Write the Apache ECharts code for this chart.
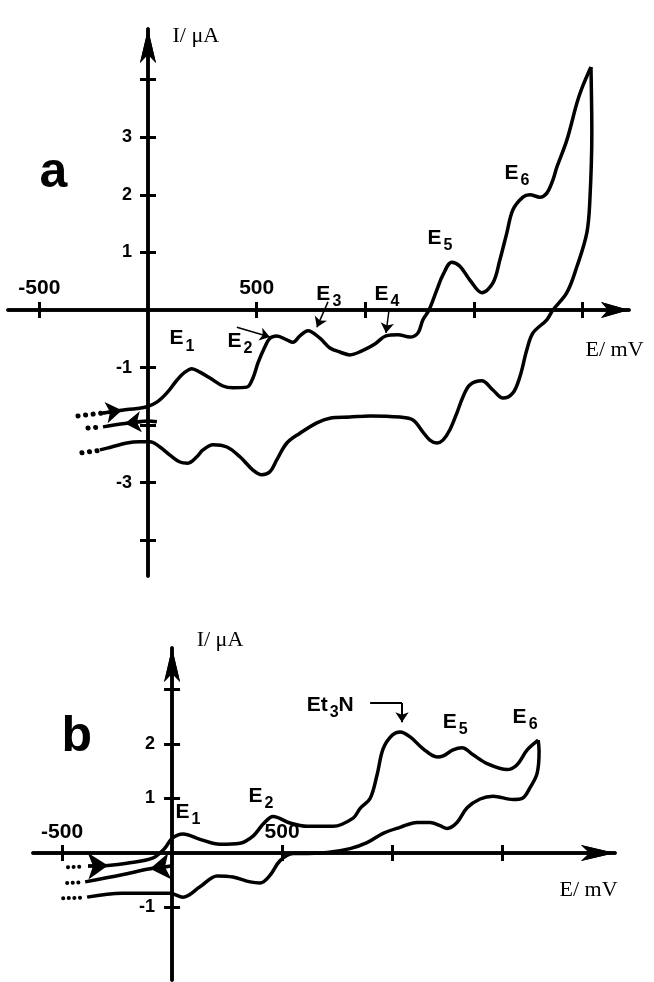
<!DOCTYPE html>
<html>
<head>
<meta charset="utf-8">
<script src="https://cdn.jsdelivr.net/npm/echarts@6/dist/echarts.min.js"></script>
<style>
html, body { margin: 0; padding: 0; background: #fff; }
#main { width: 654px; height: 982px; }
</style>
</head>
<body>
<div id="main"></div>
<script>
// axis ticks / labels (E in mV, I in uA)
var aTicksE = [-500, 500, 1000, 1500, 2000];
var aLabelsE = [-500, 500];
var aTicksI = [-4, -3, -2, -1, 1, 2, 3, 4];
var aLabelsI = [-3, -1, 1, 2, 3];
var bTicksE = [-500, 500, 1000, 1500];
var bLabelsE = [-500, 500];
var bTicksI = [-1, 1, 2, 3];
var bLabelsI = [-1, 1, 2];

// panel a, [E, I]
var aForward = [[-207, -1.79], [-120, -1.74], [-51, -1.71], [-5, -1.68], [41, -1.60], [87, -1.44], [133, -1.22], [170, -1.08], [202, -1.02], [239, -1.08], [285, -1.18], [345, -1.32], [391, -1.35], [455, -1.34], [483, -1.18], [506, -0.92], [538, -0.64], [561, -0.49], [593, -0.45], [639, -0.52], [667, -0.56], [699, -0.45], [736, -0.36], [791, -0.49], [837, -0.66], [883, -0.73], [929, -0.78], [984, -0.71], [1044, -0.59], [1095, -0.45], [1150, -0.43], [1205, -0.47], [1242, -0.40], [1265, -0.17], [1293, 0], [1329, 0.35], [1357, 0.61], [1398, 0.83], [1435, 0.76], [1481, 0.52], [1536, 0.30], [1587, 0.47], [1619, 0.87], [1651, 1.34], [1679, 1.74], [1725, 1.96], [1757, 2.00], [1803, 1.96], [1835, 2.03], [1863, 2.26], [1881, 2.48], [1927, 2.95], [1973, 3.59], [1996, 3.85], [2038, 4.22]];
var aReverse = [[2038, 4.22], [2042, 3.07], [2033, 1.91], [2019, 1.34], [1973, 0.75], [1927, 0.30], [1863, 0], [1835, -0.17], [1771, -0.40], [1743, -0.69], [1711, -1.16], [1679, -1.44], [1633, -1.53], [1587, -1.39], [1536, -1.23], [1481, -1.30], [1449, -1.51], [1421, -1.79], [1389, -2.08], [1357, -2.26], [1329, -2.31], [1297, -2.26], [1265, -2.12], [1219, -1.91], [1159, -1.86], [1021, -1.84], [929, -1.86], [837, -1.88], [777, -1.96], [699, -2.14], [639, -2.31], [593, -2.60], [561, -2.81], [524, -2.86], [483, -2.78], [423, -2.55], [363, -2.38], [299, -2.34], [253, -2.43], [225, -2.55], [184, -2.66], [147, -2.64], [101, -2.52], [55, -2.38], [9, -2.29], [-37, -2.29], [-97, -2.31], [-189, -2.40], [-221, -2.43]];
var aMiddle = [[-207, -2.03], [-106, -1.97], [0, -1.93], [41, -1.94]];

// panel b, [E, I]
var bForward = [[-382, -0.24], [-291, -0.23], [-205, -0.19], [-86, -0.09], [-32, 0.09], [0, 0.27], [50, 0.35], [127, 0.25], [218, 0.16], [309, 0.18], [368, 0.31], [414, 0.53], [459, 0.67], [536, 0.55], [614, 0.49], [732, 0.49], [823, 0.64], [855, 0.82], [900, 1.0], [932, 1.44], [959, 1.91], [1000, 2.16], [1036, 2.22], [1082, 2.13], [1141, 1.91], [1205, 1.76], [1232, 1.78], [1277, 1.89], [1318, 1.93], [1368, 1.80], [1432, 1.64], [1523, 1.53], [1568, 1.62], [1614, 1.89], [1664, 2.07]];
var bReverse = [[1664, 2.07], [1668, 1.87], [1659, 1.46], [1627, 1.20], [1591, 1.00], [1550, 0.98], [1459, 1.04], [1400, 0.99], [1341, 0.83], [1295, 0.56], [1250, 0.45], [1218, 0.50], [1173, 0.56], [1114, 0.56], [1036, 0.47], [959, 0.36], [886, 0.19], [809, 0.08], [705, 0.01], [582, -0.01], [550, -0.01], [491, -0.14], [445, -0.41], [400, -0.55], [355, -0.53], [277, -0.44], [205, -0.42], [127, -0.62], [50, -0.81], [-9, -0.74], [-132, -0.74], [-227, -0.74], [-386, -0.81]];
var bMiddle = [[-395, -0.53], [-227, -0.40], [-100, -0.29], [0, -0.24]];

var SANS = 'Liberation Sans';
var SERIF = 'Liberation Serif';
var BLACK = '#000';

var rich = {
    e: { fontFamily: SANS, fontWeight: 'bold', fontSize: 21, color: BLACK, lineHeight: 24, verticalAlign: 'top', textBorderWidth: 0 },
    s: { fontFamily: SANS, fontWeight: 'bold', fontSize: 16, color: BLACK, verticalAlign: 'top', padding: [10, 0, 0, 2], textBorderWidth: 0 },
    big: { fontFamily: SANS, fontWeight: 'bold', fontSize: 50, color: BLACK, lineHeight: 50, textBorderWidth: 0 },
    n: { fontFamily: SERIF, fontSize: 22, color: BLACK, lineHeight: 24, textBorderWidth: 0 }
};

// text annotations: [E, I, text], anchored at left/middle
var aText = [
    [101, -0.55, '{e|E}{s|1}'], [368, -0.59, '{e|E}{s|2}'], [777, 0.23, '{e|E}{s|3}'],
    [1044, 0.23, '{e|E}{s|4}'], [1288, 1.19, '{e|E}{s|5}'], [1642, 2.33, '{e|E}{s|6}'],
    [-497, 2.36, '{big|a}'], [115, 4.74, '{n|I/ \u03bcA}'], [2015, -0.71, '{n|E/ mV}']
];
var bText = [
    [18, 0.69, '{e|E}{s|1}'], [350, 0.99, '{e|E}{s|2}'], [614, 2.65, '{e|Et}{s|3}{e|N}'],
    [1232, 2.35, '{e|E}{s|5}'], [1550, 2.43, '{e|E}{s|6}'],
    [-500, 2.12, '{big|b}'], [114, 3.89, '{n|I/ \u03bcA}'], [1763, -0.70, '{n|E/ mV}']
];

// small pointer arrows
var aPointers = [
    [[409, -0.30], [561, -0.47]],
    [[828, 0.14], [777, -0.30]],
    [[1109, 0.0], [1095, -0.40]]
];
var bPointers = [
    [[1045, 2.75], [1045, 2.40]]
];
var bHook = [[900, 2.75], [1045, 2.75]];

// scan direction arrows and dotted lead-ins
var aScan = [[[-207, -1.79], [-120, -1.74]], [[-30, -1.94], [-106, -1.97]]];
var aDots = [[[-322, -1.84], [-212, -1.79]], [[-276, -2.05], [-212, -2.03]], [[-304, -2.48], [-225, -2.44]]];
var bScan = [[[-382, -0.24], [-291, -0.23]], [[0, -0.24], [-100, -0.29]]];
var bDots = [[[-473, -0.26], [-410, -0.25]], [[-477, -0.55], [-414, -0.54]], [[-495, -0.83], [-410, -0.82]]];

var grids = [
    { left: 8, top: 29, width: 621, height: 547, outerBoundsMode: 'none', containLabel: false },
    { left: 33, top: 648, width: 582, height: 332, outerBoundsMode: 'none', containLabel: false }
];
var rangesE = [[-644, 2213], [-632, 2013]];
var rangesI = [[-4.62, 4.88], [-2.33, 3.76]];

// axes drawn through the zero of the other axis (with offset, so labels follow)
function axisPair(dim, g, ticks, labels, arrow, fontSize, margin) {
    var own = dim === 'x' ? rangesE[g] : rangesI[g];
    var other = dim === 'x' ? rangesI[g] : rangesE[g];
    var span = dim === 'x' ? grids[g].height : grids[g].width;
    var offset = -(0 - other[0]) / (other[1] - other[0]) * span;
    var list = [];
    [false, true].forEach(function (inner) {
        list.push({
            type: 'value',
            gridIndex: g,
            position: dim === 'x' ? 'bottom' : 'left',
            offset: offset,
            min: own[0],
            max: own[1],
            axisLine: {
                show: true,
                onZero: false,
                symbol: ['none', 'arrow'],
                symbolSize: arrow,
                lineStyle: { color: BLACK, width: 3.5 }
            },
            axisTick: {
                show: true,
                inside: inner,
                length: 8,
                customValues: ticks,
                lineStyle: { color: BLACK, width: 3 }
            },
            axisLabel: {
                show: !inner,
                customValues: labels,
                inside: dim === 'x',
                margin: margin,
                color: BLACK,
                fontFamily: SANS,
                fontWeight: 'bold',
                fontSize: fontSize
            },
            splitLine: { show: false }
        });
    });
    return list;
}

function curve(data, ax) {
    return {
        type: 'line',
        xAxisIndex: ax,
        yAxisIndex: ax,
        data: data,
        smooth: 0.35,
        showSymbol: false,
        symbol: 'none',
        lineStyle: { color: BLACK, width: 3.5 },
        z: 3
    };
}

function textSeries(items, ax) {
    return {
        type: 'scatter',
        xAxisIndex: ax,
        yAxisIndex: ax,
        silent: true,
        clip: false,
        symbolSize: 1,
        itemStyle: { color: 'rgba(0,0,0,0)', opacity: 1 },
        label: {
            show: true,
            position: [0, 0],
            align: 'left',
            verticalAlign: 'middle',
            color: BLACK,
            opacity: 1,
            textBorderWidth: 0,
            formatter: function (p) { return p.name; },
            rich: rich
        },
        data: items.map(function (t) { return { name: t[2], value: [t[0], t[1]] }; }),
        z: 5
    };
}

function arrowSeries(segs, ax, width, size, sym) {
    return {
        type: 'lines',
        coordinateSystem: 'cartesian2d',
        xAxisIndex: ax,
        yAxisIndex: ax,
        silent: true,
        symbol: sym,
        symbolSize: size,
        lineStyle: { color: BLACK, width: width, opacity: 1, curveness: 0 },
        data: segs.map(function (c) { return { coords: c }; }),
        z: 4
    };
}

function dotSeries(segs, ax, size, gap) {
    return {
        type: 'lines',
        coordinateSystem: 'cartesian2d',
        xAxisIndex: ax,
        yAxisIndex: ax,
        silent: true,
        symbol: ['none', 'none'],
        lineStyle: { color: BLACK, width: size, opacity: 1, type: [0.1, gap], cap: 'round' },
        data: segs.map(function (c) { return { coords: c }; }),
        z: 4
    };
}

var myChart = echarts.init(document.getElementById('main'));
var option = {
    animation: false,
    backgroundColor: '#fff',
    grid: grids,
    xAxis: []
        .concat(axisPair('x', 0, aTicksE, aLabelsE, [12, 28], 21, 11))
        .concat(axisPair('x', 1, bTicksE, bLabelsE, [12, 34], 21, 10)),
    yAxis: []
        .concat(axisPair('y', 0, aTicksI, aLabelsI, [12, 34], 18, 16))
        .concat(axisPair('y', 1, bTicksI, bLabelsI, [12, 34], 18, 17)),
    series: [
        curve(aForward, 0),
        curve(aReverse, 0),
        curve(aMiddle, 0),
        curve(bForward, 2),
        curve(bReverse, 2),
        curve(bMiddle, 2),
        arrowSeries(aPointers, 0, 1.5, [7, 10], ['none', 'arrow']),
        arrowSeries(bPointers, 2, 2, [8, 10], ['none', 'arrow']),
        arrowSeries([bHook], 2, 2, 1, ['none', 'none']),
        arrowSeries(aScan, 0, 3, [10, 16], ['none', 'arrow']),
        arrowSeries(bScan, 2, 3, [14, 20], ['none', 'arrow']),
        dotSeries(aDots, 0, 5, 7.5),
        dotSeries(bDots, 2, 4, 5.5),
        textSeries(aText, 0),
        textSeries(bText, 2)
    ]
};
myChart.setOption(option);
</script>
</body>
</html>
